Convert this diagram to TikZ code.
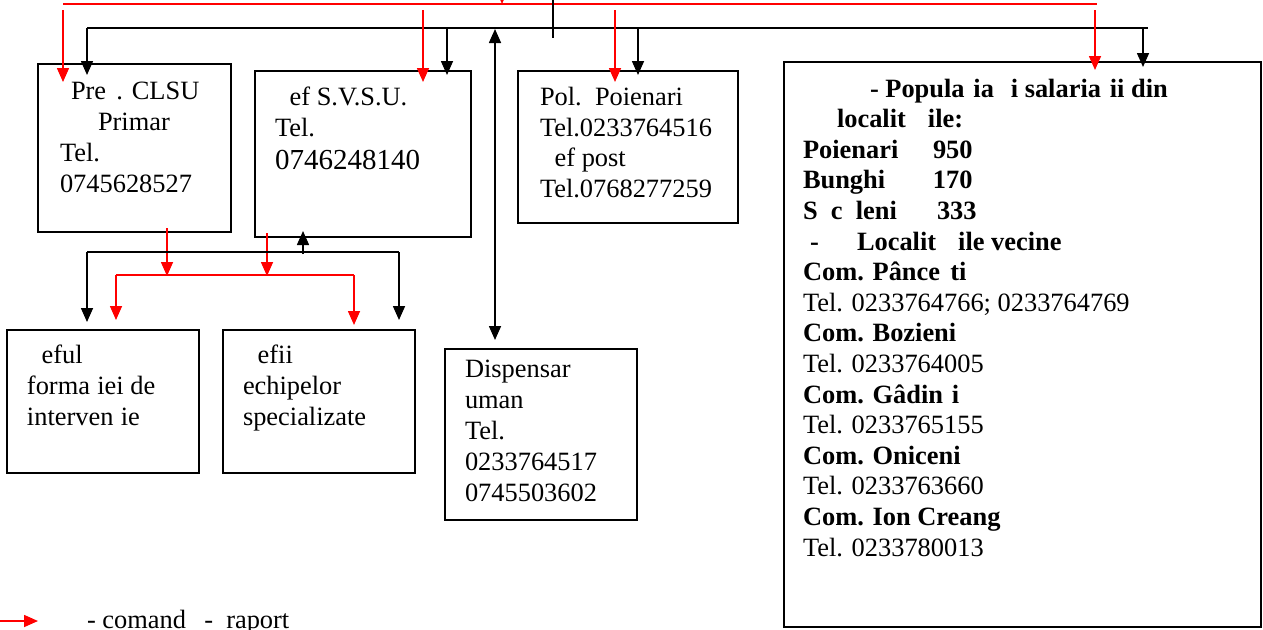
\documentclass[tikz,border=0pt]{standalone}
\usepackage{fontspec}
\setmainfont{Liberation Serif}
\usetikzlibrary{arrows.meta}
\begin{document}
\begin{tikzpicture}[x=1pt,y=-1pt,
  >={Triangle[width=12pt,length=14pt]},
  box/.style={draw,line width=1.6pt,inner sep=0pt,outer sep=0pt,anchor=north west},
  txt/.style={anchor=base west,inner sep=0pt,outer sep=0pt,font=\fontsize{26.4}{30.6}\selectfont},
  bigtxt/.style={txt,font=\fontsize{29}{33}\selectfont},
  btxt/.style={txt,font=\fontsize{26.4}{30.6}\selectfont\bfseries},
  blk/.style={line width=1.6pt,black},
  cmd/.style={line width=1.6pt,red}]
\clip (0,0) rectangle (1263,629);
\fill[white] (0,0) rectangle (1263,629);

% boxes
\node[box,minimum width=193pt,minimum height=168pt] (b1) at (38,64) {};
\node[box,minimum width=216pt,minimum height=166pt] (b2) at (255,71) {};
\node[box,minimum width=220pt,minimum height=152pt] (b3) at (518,71) {};
\node[box,minimum width=477pt,minimum height=565pt] (b4) at (784,62) {};
\node[box,minimum width=192pt,minimum height=143pt] (b5) at (7,330) {};
\node[box,minimum width=192pt,minimum height=143pt] (b6) at (223,330) {};
\node[box,minimum width=192pt,minimum height=171pt] (b7) at (445,349) {};

% box 1 text
\node[txt] (t11) at (71,99) {Pre\phantom{ş}. CLSU};
\node[txt] (t12) at (98,130) {Primar};
\node[txt] (t13) at (60,161) {Tel.};
\node[txt] (t14) at (60,192) {0745628527};
% box 2 text
\node[txt] (t21) at (275,105) {\phantom{Ş}ef S.V.S.U.};
\node[txt] (t22) at (275,136) {Tel.};
\node[bigtxt] (t23) at (275,169) {0746248140};
% box 3 text
\node[txt] (t31) at (540,105) {Pol.\ \ Poienari};
\node[txt] (t32) at (540,136) {Tel.0233764516};
\node[txt] (t33) at (540,166) {\phantom{Ş}ef post};
\node[txt] (t34) at (540,197) {Tel.0768277259};
% box 4 text
\node[btxt] (t41) at (870,97) {- Popula\phantom{ţ}ia \phantom{ş}i salaria\phantom{ţ}ii din};
\node[btxt] (t42) at (837,127.6) {localit\phantom{ăţ}ile:};
\node[btxt] (t43) at (803,158.2) {\makebox[130pt][l]{Poienari}950};
\node[btxt] (t44) at (803,188.8) {\makebox[130pt][l]{Bunghi}170};
\node[btxt] (t45) at (803,219.4) {\makebox[134pt][l]{S\phantom{ă}c\phantom{ă}leni}333};
\node[btxt] (t46) at (803,250) {\makebox[54pt][l]{\hspace{7pt}-}Localit\phantom{ăţ}ile vecine};
\node[btxt] (t47) at (803,280.6) {Com. Pânce\phantom{ş}ti};
\node[txt]  (t48) at (803,311.2) {Tel. 0233764766; 0233764769};
\node[btxt] (t49) at (803,341.8) {Com. Bozieni};
\node[txt]  (t410) at (803,372.4) {Tel. 0233764005};
\node[btxt] (t411) at (803,403) {Com. Gâdin\phantom{ţ}i};
\node[txt]  (t412) at (803,433.6) {Tel. 0233765155};
\node[btxt] (t413) at (803,464.2) {Com. Oniceni};
\node[txt]  (t414) at (803,494.8) {Tel. 0233763660};
\node[btxt] (t415) at (803,525.4) {Com. Ion Creang};
\node[txt]  (t416) at (803,556) {Tel. 0233780013};
% box 5 text
\node[txt] (t51) at (27,363) {\phantom{Ş}eful};
\node[txt] (t52) at (27,394) {forma\phantom{ţ}iei de};
\node[txt] (t53) at (27,425) {interven\phantom{ţ}ie};
% box 6 text
\node[txt] (t61) at (243,363) {\phantom{Ş}efii};
\node[txt] (t62) at (243,394) {echipelor};
\node[txt] (t63) at (243,425) {specializate};
% box 7 text
\node[txt] (t71) at (465,377) {Dispensar};
\node[txt] (t72) at (465,408) {uman};
\node[txt] (t73) at (465,439) {Tel.};
\node[txt] (t74) at (465,470) {0233764517};
\node[txt] (t75) at (465,501) {0745503602};
% legend
\node[txt] (leg) at (87,628) {- comand\phantom{ă} -\ \ raport};
\coordinate (lg1) at (0,621);
\coordinate (lg2) at (38,621);
\draw[cmd,->] (lg1) -- (lg2);

% ---- top buses
\coordinate (rbL) at (63,4);
\coordinate (rbR) at (1097,4);
\coordinate (rin0) at (502,-20);
\coordinate (rin1) at (502,4);
\draw[cmd] (rbL) -- (rbR);
\draw[cmd,->] (rin0) -- (rin1);

\coordinate (kbL) at (87,28);
\coordinate (kbR) at (1148,28);
\coordinate (kin0) at (553,-5);
\coordinate (kin1) at (553,38);
\draw[blk] (kbL) -- (kbR);
\draw[blk] (kin0) -- (kin1);

% red command arrows to boxes
\foreach \n/\x/\t in {1/63/82, 2/423/82, 3/615/82, 4/1095/70}{
  \coordinate (rs\n) at (\x,10);
  \coordinate (re\n) at (\x,\t);
  \draw[cmd,->] (rs\n) -- (re\n);
}
% black arrows to boxes
\foreach \n/\x/\t in {1/87/75, 2/447/75, 3/638/75, 4/1143/67}{
  \coordinate (ks\n) at (\x,28);
  \coordinate (ke\n) at (\x,\t);
  \draw[blk,->] (ks\n) -- (ke\n);
}
% double arrow to dispensar
\coordinate (dU) at (495,29);
\coordinate (dD) at (495,340);
\draw[blk,<->] (dD) -- (dU);

% ---- lower part
\coordinate (r5a) at (167,228);
\coordinate (r5b) at (167,276);
\coordinate (r6a) at (267,233);
\coordinate (r6b) at (267,276);
\draw[cmd,->] (r5a) -- (r5b);
\draw[cmd,->] (r6a) -- (r6b);
\coordinate (rlL) at (116,275);
\coordinate (rlR) at (354,275);
\draw[cmd] (rlL) -- (rlR);
\coordinate (rlLt) at (116,320);
\coordinate (rlRt) at (354,325);
\draw[cmd,->] (rlL) -- (rlLt);
\draw[cmd,->] (rlR) -- (rlRt);

\coordinate (klL) at (87,252);
\coordinate (klR) at (399,252);
\draw[blk] (klL) -- (klR);
\coordinate (klLt) at (87,322);
\coordinate (klRt) at (399,320);
\draw[blk,->] (klL) -- (klLt);
\draw[blk,->] (klR) -- (klRt);
\coordinate (kup0) at (303,254);
\coordinate (kup1) at (303,231);
\draw[blk,->] (kup0) -- (kup1);
\end{tikzpicture}
\end{document}
